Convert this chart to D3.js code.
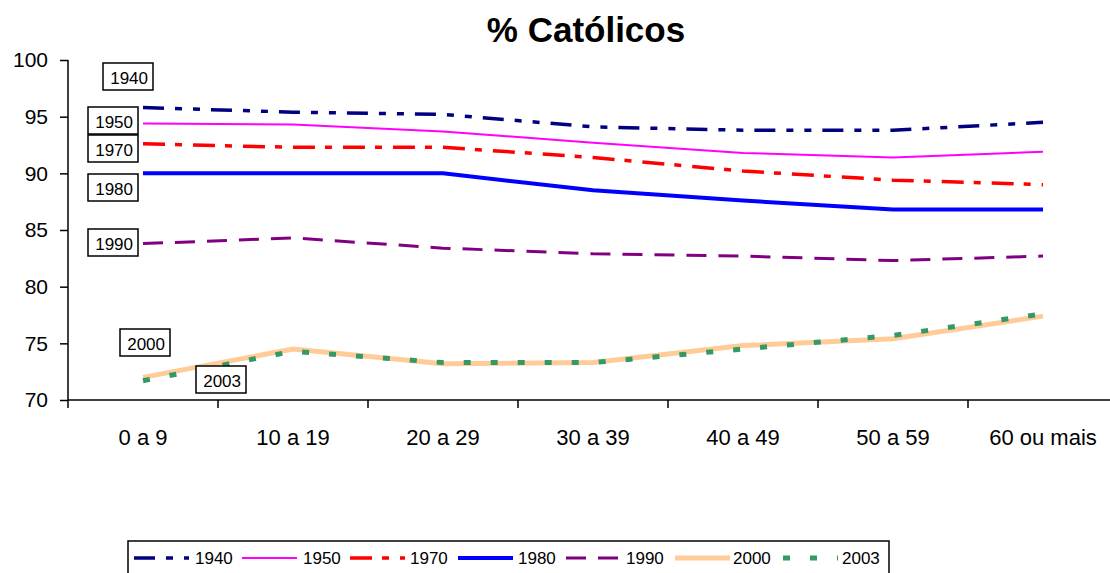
<!DOCTYPE html>
<html>
<head>
<meta charset="utf-8">
<script src="https://cdn.jsdelivr.net/npm/d3@7"></script>
<style>
  body { margin: 0; background: #fff; }
  text { font-family: "Liberation Sans", Arial, sans-serif; }
</style>
</head>
<body>
<div id="chart-area"></div>
<script>
// faixas etarias
var ageGroups = ["0 a 9", "10 a 19", "20 a 29", "30 a 39", "40 a 49", "50 a 59", "60 ou mais"];
var yTicks = [70, 75, 80, 85, 90, 95, 100];

var years = ["1940", "1950", "1970", "1980", "1990", "2000", "2003"];
var v1940 = [95.8, 95.4, 95.2, 94.1, 93.8, 93.8, 94.5];
var v1950 = [94.4, 94.3, 93.7, 92.7, 91.8, 91.4, 91.9];
var v1970 = [92.6, 92.3, 92.3, 91.4, 90.2, 89.4, 89.0];
var v1980 = [90.0, 90.0, 90.0, 88.5, 87.6, 86.8, 86.8];
var v1990 = [83.8, 84.3, 83.4, 82.9, 82.7, 82.3, 82.7];
var v2000 = [72.0, 74.5, 73.2, 73.3, 74.8, 75.4, 77.4];
var v2003 = [71.7, 74.3, 73.3, 73.3, 74.5, 75.7, 77.6];

var seriesValues = [v1940, v1950, v1970, v1980, v1990, v2000, v2003];

var styles = {
  "1940": { color: "#000080", width: 3.5, dash: "21,11,7,11,7,11" },
  "1950": { color: "#FF00FF", width: 2, dash: null },
  "1970": { color: "#FF0000", width: 3.5, dash: "22,10,7,11" },
  "1980": { color: "#0000FF", width: 4, dash: null },
  "1990": { color: "#800080", width: 3, dash: "20,12" },
  "2000": { color: "#FFCC99", width: 5, dash: null },
  "2003": { color: "#339966", width: 5, dash: "7,20" }
};

// label box positions (left, top)
var labelPos = {
  "1940": [103, 63], "1950": [88, 107], "1970": [88, 135], "1980": [88, 174],
  "1990": [88, 229], "2000": [120, 329], "2003": [196, 366]
};

var W = 1110, H = 573;
var svg = d3.select("#chart-area").append("svg")
    .attr("width", W)
    .attr("height", H);

var x0 = 68, yTop = 60, yBot = 400;

var x = d3.scaleBand()
    .domain(ageGroups)
    .range([x0, x0 + 150 * ageGroups.length]);
var y = d3.scaleLinear()
    .domain([70, 100])
    .range([yBot, yTop]);

// title
svg.append("text")
    .attr("x", 586)
    .attr("y", 42)
    .attr("text-anchor", "middle")
    .attr("font-size", "35px")
    .attr("font-weight", "bold")
    .text("% Católicos");

// Y axis
var yAxisCall = d3.axisLeft(y).tickValues(yTicks).tickSize(8).tickPadding(12);
var yAxis = svg.append("g")
    .attr("transform", "translate(" + x0 + ",0)")
    .call(yAxisCall);
yAxis.selectAll("text").attr("font-size", "21px").attr("fill", "#000")
    .attr("font-family", "Liberation Sans, Arial, sans-serif");
yAxis.selectAll("line, path").attr("stroke", "#000").attr("stroke-width", 1.5);
yAxis.select("path").attr("d", "M0," + yTop + "V" + yBot);

// X axis
var xAxisCall = d3.axisBottom(x).tickSize(0).tickPadding(29);
var xAxis = svg.append("g")
    .attr("transform", "translate(0," + yBot + ")")
    .call(xAxisCall);
xAxis.select("path").attr("d", "M" + x0 + ",0H" + W).attr("stroke", "#000").attr("stroke-width", 1.5);
xAxis.selectAll("text").attr("font-size", "22px").attr("fill", "#000")
    .attr("font-family", "Liberation Sans, Arial, sans-serif");
// ticks between categories
xAxis.selectAll(".sep")
    .data(ageGroups)
    .enter().append("line")
    .attr("class", "sep")
    .attr("x1", function(d) { return x(d); })
    .attr("x2", function(d) { return x(d); })
    .attr("y1", 0).attr("y2", 8)
    .attr("stroke", "#000").attr("stroke-width", 1.5);

var line = d3.line()
    .x(function(d, i) { return x(ageGroups[i]) + x.bandwidth() / 2; })
    .y(function(d) { return y(d); });

years.forEach(function(yr, i) {
  var s = styles[yr];
  svg.append("path")
      .datum(seriesValues[i])
      .attr("fill", "none")
      .attr("stroke", s.color)
      .attr("stroke-width", s.width)
      .attr("stroke-dasharray", s.dash)
      .attr("d", line);
});

// year labels in boxes
years.forEach(function(yr) {
  var p = labelPos[yr];
  svg.append("rect")
      .attr("x", p[0]).attr("y", p[1])
      .attr("width", 50).attr("height", 27)
      .attr("fill", "#fff")
      .attr("stroke", "#000").attr("stroke-width", 1.5);
  svg.append("text")
      .attr("x", p[0] + 45).attr("y", p[1] + 21)
      .attr("text-anchor", "end")
      .attr("font-size", "17px")
      .text(yr);
});

// legend
var legend = svg.append("g");
legend.append("rect")
    .attr("x", 128).attr("y", 541)
    .attr("width", 761).attr("height", 40)
    .attr("fill", "#fff")
    .attr("stroke", "#000").attr("stroke-width", 1.5);

var legX = [134, 242, 350, 458, 566, 675, 783];
var legTextX = [195, 303, 410, 518, 626, 733, 842];
years.forEach(function(yr, i) {
  var s = styles[yr];
  legend.append("line")
      .attr("x1", legX[i]).attr("x2", legX[i] + 55)
      .attr("y1", 558).attr("y2", 558)
      .attr("stroke", s.color)
      .attr("stroke-width", s.width)
      .attr("stroke-dasharray", s.dash);
  legend.append("text")
      .attr("x", legTextX[i]).attr("y", 564)
      .attr("font-size", "17px")
      .text(yr);
});
</script>
</body>
</html>
